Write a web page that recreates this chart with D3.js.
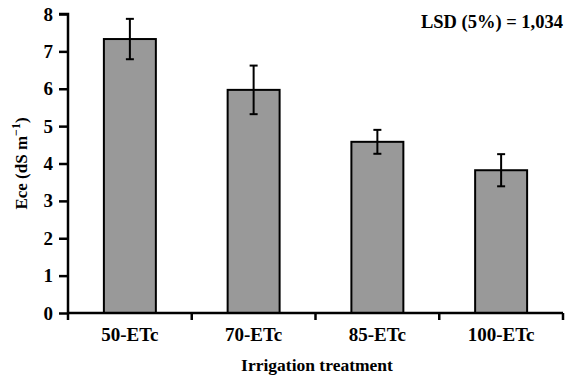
<!DOCTYPE html>
<html>
<head>
<meta charset="utf-8">
<script src="https://cdn.jsdelivr.net/npm/d3@7"></script>
<style>
  body { margin: 0; background: #fff; }
</style>
</head>
<body>
<svg id="chart" width="567" height="381"></svg>
<script>
let treatments = ["50-ETc", "70-ETc", "85-ETc", "100-ETc"]
let eceValues = [7.33, 5.97, 4.58, 3.82]
let eceErrors = [0.54, 0.65, 0.32, 0.43]
let yTicks = [0, 1, 2, 3, 4, 5, 6, 7, 8]

let serif = "'Liberation Serif', 'Times New Roman', serif"

let margin = {top: 14, right: 4, bottom: 68, left: 68}
let width = 567 - margin.left - margin.right
let height = 381 - margin.top - margin.bottom

let svg = d3.select("#chart")
let g = svg.append("g").attr("transform", `translate(${margin.left},${margin.top})`)

let x = d3.scaleBand().domain(treatments).range([0, width]).paddingInner(0.58).paddingOuter(0.29)
let y = d3.scaleLinear().domain([0, 8]).range([height, 0])

// bars
g.selectAll("rect.bar")
  .data(treatments)
  .enter().append("rect")
  .attr("class", "bar")
  .attr("x", d => x(d))
  .attr("width", x.bandwidth())
  .attr("y", (d, i) => y(eceValues[i]))
  .attr("height", (d, i) => height - y(eceValues[i]))
  .attr("fill", "#999999")
  .attr("stroke", "#000")
  .attr("stroke-width", 2)

// error bars
let errG = g.append("g").attr("stroke", "#000").attr("stroke-width", 2)
treatments.forEach((d, i) => {
  let cx = x(d) + x.bandwidth() / 2
  let hi = y(eceValues[i] + eceErrors[i])
  let lo = y(eceValues[i] - eceErrors[i])
  errG.append("line").attr("x1", cx).attr("x2", cx).attr("y1", hi).attr("y2", lo)
  errG.append("line").attr("x1", cx - 4).attr("x2", cx + 4).attr("y1", hi).attr("y2", hi)
  errG.append("line").attr("x1", cx - 4).attr("x2", cx + 4).attr("y1", lo).attr("y2", lo)
})

// y axis
let yAxis = g.append("g")
  .call(d3.axisLeft(y).tickValues(yTicks).tickSize(9).tickPadding(6).tickFormat(d3.format("d")))
yAxis.attr("font-family", serif).attr("font-weight", "bold").attr("font-size", 19)
yAxis.selectAll("path, line").attr("stroke", "#000").attr("stroke-width", 2.5)
yAxis.select(".domain").attr("d", `M0,${height}V0H-9`)
yAxis.selectAll("text").attr("fill", "#000")

// x axis: ticks between categories
let xEdges = [0, 1, 2, 3, 4].map(i => i * width / 4)
let xAxis = g.append("g").attr("transform", `translate(0,${height})`)
xAxis.append("line").attr("x1", 0).attr("x2", width).attr("y1", 0).attr("y2", 0)
  .attr("stroke", "#000").attr("stroke-width", 2.5)
xAxis.selectAll("line.tk").data(xEdges).enter().append("line")
  .attr("class", "tk")
  .attr("x1", d => d).attr("x2", d => d).attr("y1", 0).attr("y2", 7)
  .attr("stroke", "#000").attr("stroke-width", 2.5)
xAxis.selectAll("text.cat").data(treatments).enter().append("text")
  .attr("class", "cat")
  .attr("x", d => x(d) + x.bandwidth() / 2)
  .attr("y", 28)
  .attr("text-anchor", "middle")
  .attr("font-family", serif).attr("font-weight", "bold").attr("font-size", 19)
  .text(d => d)

// axis titles
svg.append("text")
  .attr("x", 317).attr("y", 371)
  .attr("text-anchor", "middle")
  .attr("font-family", serif).attr("font-weight", "bold").attr("font-size", 17.5)
  .text("Irrigation treatment")

let yl = svg.append("text")
  .attr("transform", `translate(27,${margin.top + height / 2}) rotate(-90)`)
  .attr("text-anchor", "middle")
  .attr("font-family", serif).attr("font-weight", "bold").attr("font-size", 17)
yl.append("tspan").text("Ece (dS m")
yl.append("tspan").attr("dy", -7).attr("font-size", 12).text("\u22121")
yl.append("tspan").attr("dy", 7).text(")")

svg.append("text")
  .attr("x", 563).attr("y", 28)
  .attr("text-anchor", "end")
  .attr("font-family", serif).attr("font-weight", "bold").attr("font-size", 18.5)
  .text("LSD (5%) = 1,034")
</script>
</body>
</html>
